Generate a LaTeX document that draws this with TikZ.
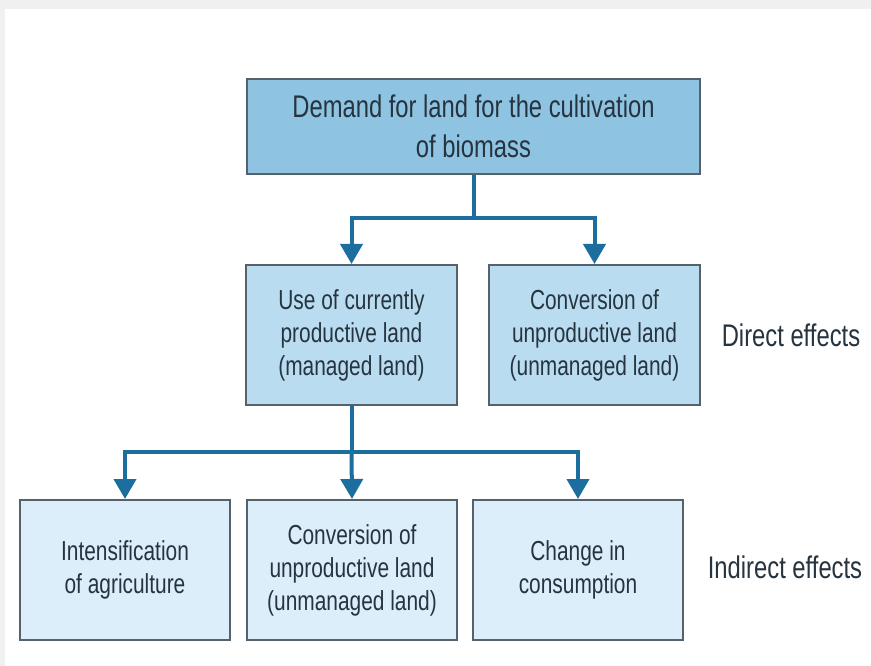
\documentclass[tikz,border=0pt]{standalone}
\usepackage{fontspec}
\setmainfont{Liberation Sans}[FakeStretch=0.76]
\usetikzlibrary{arrows.meta}
\definecolor{bgGrey}{HTML}{F0F0F0}
\definecolor{topFill}{HTML}{8EC4E1}
\definecolor{midFill}{HTML}{BADCF0}
\definecolor{lowFill}{HTML}{DCEEF9}
\definecolor{boxLine}{HTML}{56626B}
\definecolor{txtCol}{HTML}{263440}
\definecolor{arrCol}{HTML}{1C6E9E}
\tikzset{
  boxbase/.style={draw=boxLine, line width=2pt, align=center, text=txtCol, inner sep=2pt},
  topbox/.style={boxbase, fill=topFill, minimum width=453pt, minimum height=95pt, font=\fontsize{31.3}{40}\selectfont},
  midbox/.style={boxbase, fill=midFill, minimum width=211pt, minimum height=140pt, font=\fontsize{27.5}{33}\selectfont},
  lowbox/.style={boxbase, fill=lowFill, minimum width=210pt, minimum height=140pt, font=\fontsize{27.5}{33}\selectfont},
  effect/.style={text=txtCol, font=\fontsize{31.3}{36}\selectfont, anchor=center},
  conn/.style={draw=arrCol, line width=4pt},
  arr/.style={conn, -{Triangle[width=22pt,length=20pt]}}
}
\begin{document}
\begin{tikzpicture}[x=1pt,y=-1pt]
\useasboundingbox (0,0) rectangle (871,666);
\fill[bgGrey] (0,0) rectangle (871,666);
\fill[white] (5,9) rectangle (871,666);
\node[topbox] (top) at (473.5,126.5) {Demand for land for the cultivation\\of biomass};
\node[midbox] (ml) at (351.5,335) {Use of currently\\productive land\\(managed land)};
\node[midbox] (mr) at (594.5,335) {Conversion of\\unproductive land\\(unmanaged land)};
\node[lowbox] (la) at (125,570) {Intensification\\of agriculture};
\node[lowbox] (lb) at (352,570) {Conversion of\\unproductive land\\(unmanaged land)};
\node[lowbox] (lc) at (578,570) {Change in\\consumption};
\node[effect] (de) at (791,335) {Direct effects};
\node[effect] (ie) at (785,567) {Indirect effects};
\coordinate (j1) at (top.south |- 0,218);
\coordinate (j2) at (ml.south |- 0,452);
\draw[conn] (top.south) -- (j1);
\draw[arr] (j1) -| (ml.north);
\draw[arr] (j1) -| (mr.north);
\draw[conn] (ml.south) -- (j2);
\draw[arr] (j2) -| (la.north);
\draw[arr] (j2) -- (lb.north);
\draw[arr] (j2) -| (lc.north);
\end{tikzpicture}
\end{document}
